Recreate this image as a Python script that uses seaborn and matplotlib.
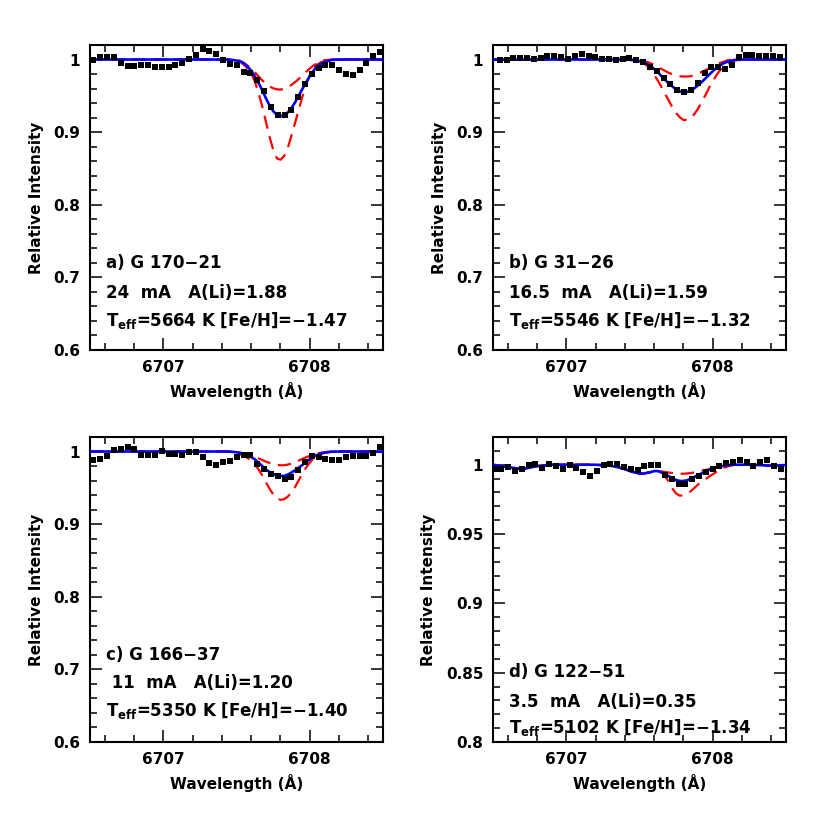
import matplotlib
matplotlib.use("Agg")
import matplotlib.pyplot as plt
from matplotlib.ticker import MultipleLocator, FuncFormatter
import seaborn as sns

# ---------------- observed spectra (wavelength in Angstrom, relative flux) ----------------
wl_a = [6706.523, 6706.570, 6706.616, 6706.663, 6706.709, 6706.756, 6706.803, 6706.849,
        6706.896, 6706.942, 6706.989, 6707.036, 6707.082, 6707.129, 6707.175, 6707.222,
        6707.269, 6707.315, 6707.362, 6707.408, 6707.455, 6707.502, 6707.548, 6707.595,
        6707.641, 6707.688, 6707.735, 6707.781, 6707.828, 6707.874, 6707.921, 6707.968,
        6708.014, 6708.061, 6708.107, 6708.154, 6708.201, 6708.247, 6708.294, 6708.340,
        6708.387, 6708.434, 6708.480]
obs_a = [0.999, 1.003, 1.003, 1.003, 0.995, 0.991, 0.991, 0.992, 0.992, 0.990, 0.990,
         0.990, 0.992, 0.995, 1.001, 1.006, 1.014, 1.012, 1.007, 0.999, 0.994, 0.993,
         0.9825, 0.982, 0.972, 0.956, 0.935, 0.923, 0.924, 0.930, 0.948, 0.966, 0.980,
         0.988, 0.992, 0.992, 0.986, 0.980, 0.978, 0.985, 0.995, 1.0055, 1.010]

wl_b = [6706.546, 6706.593, 6706.639, 6706.686, 6706.732, 6706.779, 6706.826, 6706.872,
        6706.919, 6706.965, 6707.012, 6707.059, 6707.105, 6707.152, 6707.198, 6707.245,
        6707.292, 6707.338, 6707.385, 6707.431, 6707.478, 6707.525, 6707.571, 6707.618,
        6707.664, 6707.711, 6707.758, 6707.804, 6707.851, 6707.897, 6707.944, 6707.991,
        6708.037, 6708.084, 6708.130, 6708.177, 6708.224, 6708.270, 6708.317, 6708.363,
        6708.410, 6708.457]
obs_b = [1.000, 0.999, 1.002, 1.002, 1.002, 1.001, 1.002, 1.0046, 1.0046, 1.003, 1.0014,
         1.0046, 1.007, 1.0046, 1.003, 1.0014, 1.0014, 1.000, 1.001, 1.002, 0.999, 0.996,
         0.990, 0.984, 0.975, 0.966, 0.958, 0.955, 0.958, 0.968, 0.981, 0.990, 0.990,
         0.987, 0.992, 1.003, 1.006, 1.006, 1.0046, 1.0046, 1.0046, 1.003]

wl_c = list(wl_a)
obs_c = [0.988, 0.9894, 0.994, 1.0018, 1.0032, 1.0064, 1.0041, 0.9954, 0.995, 0.995,
         1.0009, 0.9972, 0.9972, 0.9954, 1.000, 1.000, 0.9926, 0.9848, 0.9816, 0.9853,
         0.9871, 0.9926, 0.995, 0.995, 0.9834, 0.9761, 0.9692, 0.9669, 0.9628, 0.9646,
         0.9742, 0.9853, 0.9945, 0.9926, 0.9899, 0.988, 0.989, 0.9926, 0.9945, 0.9945,
         0.9945, 0.998, 1.0064]

wl_d = [6706.511, 6706.558, 6706.604, 6706.651, 6706.697, 6706.744, 6706.790, 6706.837,
        6706.883, 6706.930, 6706.976, 6707.023, 6707.069, 6707.116, 6707.162, 6707.209,
        6707.255, 6707.302, 6707.348, 6707.395, 6707.441, 6707.488, 6707.534, 6707.581,
        6707.627, 6707.674, 6707.720, 6707.767, 6707.813, 6707.860, 6707.906, 6707.953,
        6707.999, 6708.046, 6708.092, 6708.139, 6708.185, 6708.232, 6708.278, 6708.325,
        6708.371, 6708.418, 6708.464]
obs_d = [0.9966, 0.9971, 0.9982, 0.9958, 0.9971, 0.9995, 1.0002, 0.9975, 1.0002, 0.999,
         0.9971, 0.9995, 0.998, 0.9951, 0.9922, 0.9954, 0.9995, 1.0007, 1.0002, 0.9982,
         0.9971, 0.9963, 0.999, 1.000, 1.000, 0.9927, 0.9898, 0.9862, 0.9862, 0.9894,
         0.9922, 0.9951, 0.9966, 0.999, 1.0014, 1.0019, 1.0031, 1.0019, 0.999, 1.0023,
         1.0031, 0.999, 0.9966]

# ---------------- synthetic spectra ----------------
wl_model = [6706.50, 6706.60, 6706.70, 6706.80, 6706.90, 6707.00, 6707.10, 6707.20,
            6707.30, 6707.35, 6707.40, 6707.45, 6707.50, 6707.525, 6707.55, 6707.575,
            6707.60, 6707.625, 6707.65, 6707.675, 6707.70, 6707.725, 6707.75, 6707.775,
            6707.80, 6707.825, 6707.85, 6707.875, 6707.90, 6707.925, 6707.95, 6707.975,
            6708.00, 6708.025, 6708.05, 6708.075, 6708.10, 6708.15, 6708.20, 6708.25,
            6708.30, 6708.40, 6708.50]

best_a = [1.0] * 12 + [0.9986, 0.9977, 0.9945, 0.990, 0.985, 0.977, 0.968, 0.958, 0.947,
                       0.937, 0.929, 0.9237, 0.922, 0.9232, 0.927, 0.9333, 0.941, 0.9503,
                       0.9595, 0.9687, 0.977, 0.9844, 0.991, 0.994, 0.9963, 0.9995] + [1.0] * 5
high_a = [1.0] * 12 + [0.999, 0.997, 0.993, 0.988, 0.981, 0.970, 0.954, 0.936, 0.915, 0.894,
                       0.876, 0.864, 0.862, 0.867, 0.878, 0.895, 0.913, 0.931, 0.949,
                       0.9655, 0.978, 0.987, 0.993, 0.996, 0.998, 1.0] + [1.0] * 5
low_a = [1.0] * 12 + [0.999, 0.998, 0.9954, 0.9917, 0.9876, 0.9825, 0.977, 0.9715, 0.967,
                      0.9632, 0.9604, 0.959, 0.9586, 0.9595, 0.9618, 0.965, 0.969, 0.9733,
                      0.978, 0.983, 0.9876, 0.9917, 0.995, 0.9977, 0.999, 1.0] + [1.0] * 5

best_b = [1.0] * 11 + [0.9993, 0.9977, 0.9963, 0.994, 0.991, 0.987, 0.9825, 0.977, 0.972,
                       0.967, 0.9628, 0.959, 0.9563, 0.955, 0.9554, 0.957, 0.9605, 0.9646,
                       0.969, 0.974, 0.979, 0.984, 0.9885, 0.992, 0.995, 0.997, 0.9995] + [1.0] * 5
high_b = [1.0] * 11 + [0.9993, 0.9977, 0.9954, 0.9917, 0.986, 0.979, 0.971, 0.962, 0.9526,
                       0.9434, 0.934, 0.9264, 0.9205, 0.9168, 0.9168, 0.9195, 0.925, 0.9324,
                       0.9416, 0.951, 0.961, 0.970, 0.9784, 0.9853, 0.990, 0.994, 0.9986] + [1.0] * 5
low_b = [1.0] * 11 + [0.9997, 0.9995, 0.999, 0.9968, 0.995, 0.9926, 0.990, 0.987, 0.9844,
                      0.9816, 0.9798, 0.978, 0.977, 0.9766, 0.9766, 0.977, 0.9789, 0.9807,
                      0.983, 0.9853, 0.988, 0.991, 0.993, 0.9954, 0.997, 0.999, 0.9995] + [1.0] * 5

best_c = [1.0] * 12 + [0.999, 0.998, 0.997, 0.995, 0.9925, 0.9893, 0.9847, 0.9802, 0.9755,
                       0.9719, 0.9691, 0.9673, 0.9664, 0.9664, 0.9682, 0.971, 0.9742, 0.9779,
                       0.9815, 0.9857, 0.9893, 0.9928, 0.9953, 0.9973, 0.9986, 0.9998] + [1.0] * 5
high_c = [1.0] * 12 + [0.998, 0.9962, 0.994, 0.9912, 0.9875, 0.9825, 0.9755, 0.9673, 0.958,
                       0.949, 0.9412, 0.9357, 0.9334, 0.9343, 0.9379, 0.9435, 0.9513, 0.9605,
                       0.9696, 0.9779, 0.9847, 0.9902, 0.994, 0.9965, 0.998, 0.9998] + [1.0] * 5
low_c = [1.0] * 12 + [0.9993, 0.9985, 0.997, 0.996, 0.9945, 0.9926, 0.9907, 0.9884, 0.9861,
                      0.9843, 0.9825, 0.9815, 0.9811, 0.9811, 0.982, 0.9834, 0.9852, 0.9875,
                      0.9898, 0.9921, 0.994, 0.996, 0.9972, 0.9983, 0.999, 0.9998] + [1.0] * 5

best_d = [1.0, 0.9983, 0.9968, 0.999, 1.0, 1.0, 1.0, 1.0, 0.9993, 0.9983, 0.9968, 0.9949,
          0.9936, 0.9936, 0.9941, 0.9946, 0.9954, 0.9954, 0.9946, 0.9934, 0.9917, 0.9902,
          0.989, 0.9883, 0.9883, 0.9888, 0.99, 0.9912, 0.9926, 0.9938, 0.9951, 0.9963,
          0.9973, 0.998, 0.9987, 0.9992, 0.9996, 1.0, 1.0, 1.0, 0.9998, 0.9993, 0.9998]
high_d = [1.0, 0.9983, 0.9968, 0.999, 1.0, 1.0, 1.0, 1.0, 0.9993, 0.9983, 0.9968, 0.9949,
          0.9936, 0.9936, 0.9941, 0.9946, 0.9955, 0.9953, 0.9943, 0.9917, 0.9876, 0.9828,
          0.9792, 0.9777, 0.978, 0.9792, 0.9809, 0.9833, 0.9857, 0.9878, 0.9895, 0.9915,
          0.9931, 0.9948, 0.9965, 0.9977, 0.9987, 1.0, 1.0, 1.0, 0.9998, 0.9993, 0.9998]
low_d = [1.0, 0.9983, 0.9968, 0.999, 1.0, 1.0, 1.0, 1.0, 0.9993, 0.9983, 0.9968, 0.9949,
         0.9936, 0.9936, 0.9941, 0.9946, 0.9954, 0.9954, 0.9952, 0.9948, 0.9944, 0.994,
         0.9937, 0.9935, 0.9935, 0.9937, 0.994, 0.9945, 0.995, 0.9956, 0.9962, 0.9968,
         0.9975, 0.998, 0.9987, 0.9992, 0.9996, 1.0, 1.0, 1.0, 0.9998, 0.9993, 0.9998]

# ---------------- labels ----------------
star_labels = ["a) G 170\u221221", "b) G 31\u221226", "c) G 166\u221237", "d) G 122\u221251"]
ew_labels = ["24  mA   A(Li)=1.88", "16.5  mA   A(Li)=1.59", " 11  mA   A(Li)=1.20",
             "3.5  mA   A(Li)=0.35"]
par_labels = ["T$_{\\bf eff}$=5664 K [Fe/H]=\u22121.47", "T$_{\\bf eff}$=5546 K [Fe/H]=\u22121.32",
              "T$_{\\bf eff}$=5350 K [Fe/H]=\u22121.40", "T$_{\\bf eff}$=5102 K [Fe/H]=\u22121.34"]
x_ticks = [6707, 6708]

sns.set_theme(style="ticks")
plt.rcParams["font.family"] = ["DejaVu Sans"]
plt.rcParams["mathtext.fontset"] = "dejavusans"
for key in ["axes.edgecolor", "text.color", "axes.labelcolor", "xtick.color", "ytick.color"]:
    plt.rcParams[key] = "black"

fig = plt.figure(figsize=(8.3, 8.3), dpi=100)
W, H = 293 / 830, 305 / 830
positions = [[90 / 830, 1 - 350 / 830, W, H], [493 / 830, 1 - 350 / 830, W, H],
             [90 / 830, 1 - 742 / 830, W, H], [493 / 830, 1 - 742 / 830, W, H]]

panels = [
    (wl_a, obs_a, best_a, high_a, low_a, (0.6, 1.02), 0.1, 0.02, (0.285, 0.187, 0.098)),
    (wl_b, obs_b, best_b, high_b, low_b, (0.6, 1.02), 0.1, 0.02, (0.285, 0.187, 0.098)),
    (wl_c, obs_c, best_c, high_c, low_c, (0.6, 1.02), 0.1, 0.02, (0.285, 0.193, 0.102)),
    (wl_d, obs_d, best_d, high_d, low_d, (0.8, 1.02), 0.05, 0.01, (0.23, 0.131, 0.046)),
]

for i, (wl, obs, best, high, low, ylim, ymaj, ymin, ty) in enumerate(panels):
    ax = fig.add_axes(positions[i])
    dash = (0, (6, 3.5))
    sns.lineplot(x=wl_model, y=high, ax=ax, color="#ff0000", linewidth=1.6,
                 linestyle=dash, estimator=None, zorder=2)
    sns.lineplot(x=wl_model, y=low, ax=ax, color="#ff0000", linewidth=1.6,
                 linestyle=dash, estimator=None, zorder=2)
    sns.lineplot(x=wl_model, y=best, ax=ax, color="#0000ff", linewidth=1.9,
                 estimator=None, zorder=3)
    sns.scatterplot(x=wl, y=obs, ax=ax, marker="s", s=22, color="black",
                    linewidth=0, zorder=4)

    ax.set_xlim(6706.5, 6708.5)
    ax.set_ylim(*ylim)
    ax.set_xticks(x_ticks)
    ax.xaxis.set_minor_locator(MultipleLocator(0.2))
    ax.yaxis.set_major_locator(MultipleLocator(ymaj))
    ax.yaxis.set_minor_locator(MultipleLocator(ymin))
    ax.xaxis.set_major_formatter(FuncFormatter(lambda v, p: f"{v:.0f}"))
    ax.yaxis.set_major_formatter(FuncFormatter(lambda v, p: f"{round(v, 3):g}"))
    ax.tick_params(which="both", direction="in", top=True, right=True,
                   width=1.1, color="black", labelcolor="black", labelsize=11, pad=7)
    ax.tick_params(which="major", length=8.5)
    ax.tick_params(which="minor", length=4.7)
    for lab in ax.get_xticklabels() + ax.get_yticklabels():
        lab.set_fontweight("bold")
    for sp in ax.spines.values():
        sp.set_linewidth(1.5)
        sp.set_color("black")

    ax.set_xlabel("Wavelength (\u00c5)", fontsize=11, fontweight="bold", labelpad=5,
                  color="black")
    ax.set_ylabel("Relative Intensity", fontsize=11, fontweight="bold", labelpad=7,
                  color="black")

    for txt, yy in zip((star_labels[i], ew_labels[i], par_labels[i]), ty):
        ax.text(0.055, yy, txt, transform=ax.transAxes, fontsize=12, fontweight="bold",
                ha="left", va="center", color="black")

fig.savefig("out.png", dpi=100)
